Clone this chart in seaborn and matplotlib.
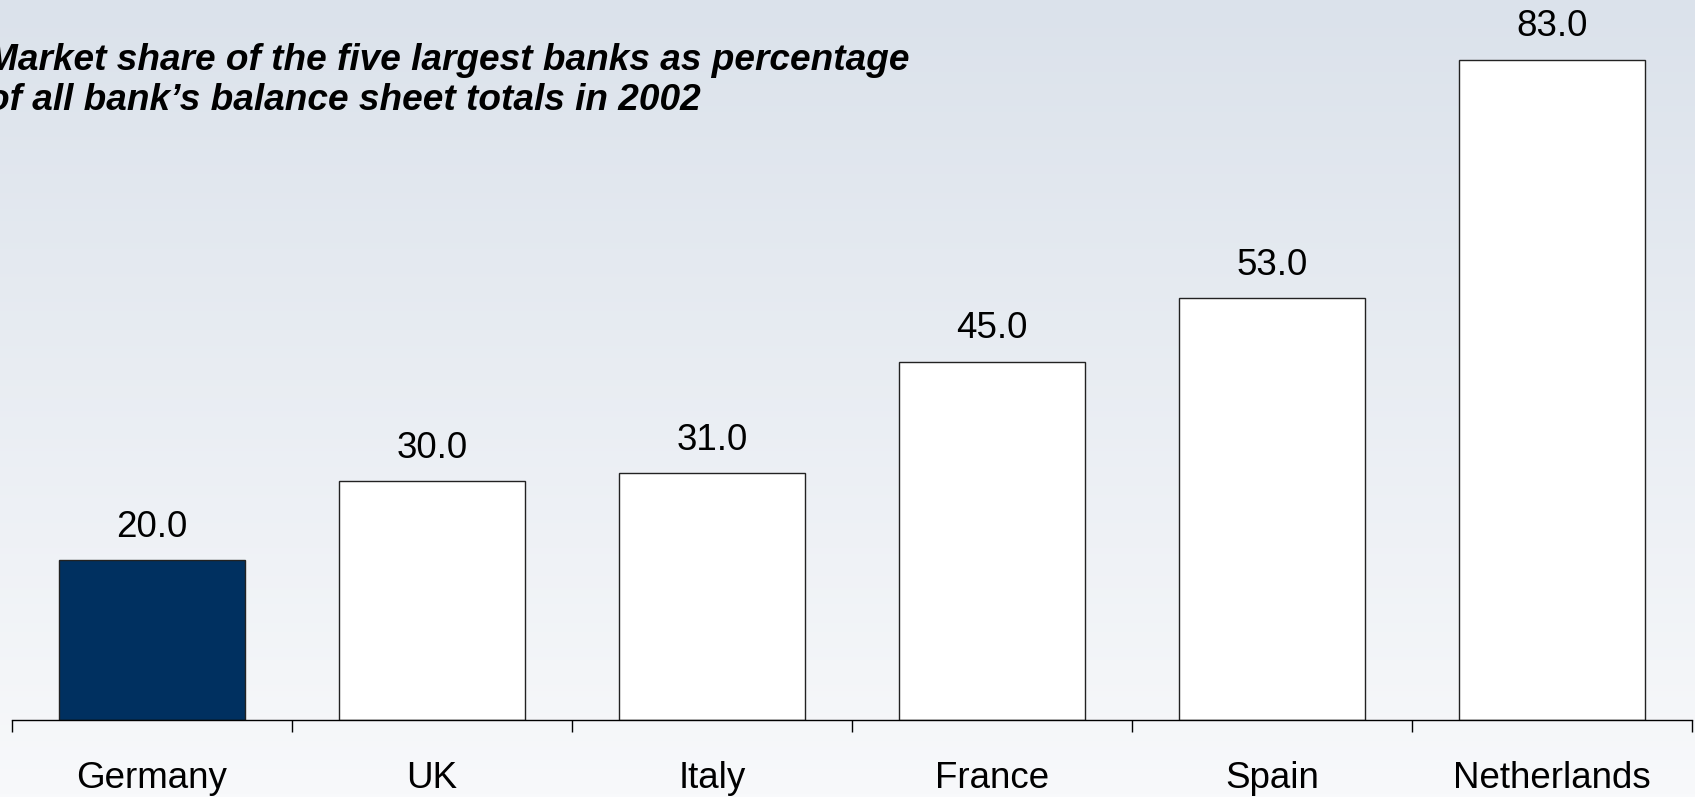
import numpy as np
import pandas as pd
import matplotlib
matplotlib.use("Agg")
import matplotlib.pyplot as plt
import seaborn as sns

# Market share of the five largest banks, 2002 (% of balance sheet totals)
countries = ["Germany", "UK", "Italy", "France", "Spain", "Netherlands"]
shares = [20.0, 30.0, 31.0, 45.0, 53.0, 83.0]
bar_colors = ["#003060", "#ffffff", "#ffffff", "#ffffff", "#ffffff", "#ffffff"]
title_text = ("Market share of the five largest banks as percentage\n"
              "of all bank\u2019s balance sheet totals in 2002")

sns.set_theme(style="white")
plt.rcParams["font.family"] = ["Liberation Sans", "DejaVu Sans"]

W, H, DPI = 1695, 797, 100
fig = plt.figure(figsize=(W / DPI, H / DPI), dpi=DPI)

# Vertical background gradient, bluish grey at the top fading to near white
bg = fig.add_axes([0, 0, 1, 1], zorder=0)
top = np.array([219, 226, 235]) / 255.0
bottom = np.array([248, 249, 251]) / 255.0
t = np.linspace(0, 1, 256)[:, None]
grad = top[None, :] * (1 - t) + bottom[None, :] * t
bg.imshow(grad[:, None, :], aspect="auto", extent=[0, 1, 0, 1])
bg.set_axis_off()

ax_left = 11.9 / W
ax_right = 1692.0 / W
ax_bottom = (H - 719.5) / H
ax = fig.add_axes([ax_left, ax_bottom, ax_right - ax_left, 1 - ax_bottom], zorder=1)
ax.patch.set_alpha(0)

df = pd.DataFrame({"country": countries, "share": shares})
sns.barplot(data=df, x="country", y="share", hue="country",
            palette=bar_colors, legend=False, width=0.664,
            edgecolor="#222222", linewidth=1.0, saturation=1.0, ax=ax)

px_per_unit = (719.5 - 59.5) / 83.0
ax.set_ylim(0, 719.5 / px_per_unit)
ax.set_xlim(-0.5, len(countries) - 0.5)

for cont in ax.containers:
    ax.bar_label(cont, fmt="%.1f", padding=11, fontsize=26.5, color="black")

# Axis: only the baseline with downward ticks at the category boundaries
for side in ["left", "right", "top"]:
    ax.spines[side].set_visible(False)
ax.spines["bottom"].set_color("black")
ax.spines["bottom"].set_linewidth(1.0)
ax.set_yticks([])
ax.set_xticks(range(len(countries)))
ax.set_xticklabels(countries, fontsize=26.5, color="black")
ax.tick_params(axis="x", which="major", length=0, pad=30)
ax.set_xticks(np.arange(-0.5, len(countries), 1.0), minor=True)
ax.tick_params(axis="x", which="minor", length=8.5, width=1.0,
               color="black", direction="out", bottom=True)
ax.set_xlabel("")
ax.set_ylabel("")

# Title block, running off the left edge of the canvas
fig.text(-13 / W, 1 - 43 / H, title_text, ha="left", va="top",
         fontsize=26.65, fontweight="bold", fontstyle="italic",
         color="black", linespacing=1.2, zorder=2)

fig.savefig("out.png", dpi=DPI)
